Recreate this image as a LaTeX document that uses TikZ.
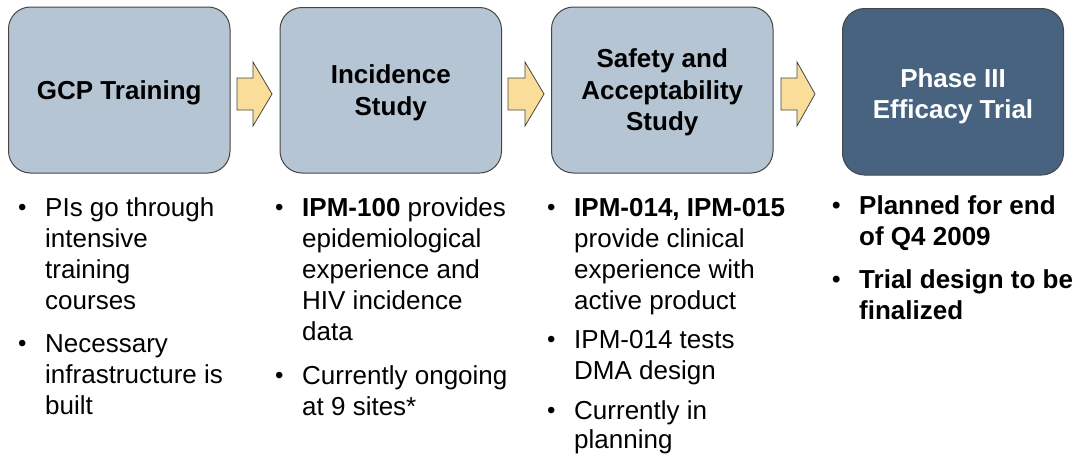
\documentclass[tikz,border=0pt]{standalone}
\usepackage{fontspec}
\setmainfont{Liberation Sans}
\usepackage{array}
\definecolor{boxlight}{RGB}{182,197,212}
\definecolor{boxdark}{RGB}{72,99,127}
\definecolor{boxline}{RGB}{70,70,70}
\definecolor{arrowfill}{RGB}{250,221,152}
\newcommand{\bul}{\raisebox{0.5pt}{\fontsize{24}{24}\selectfont\textbullet}}
\newcommand{\bl}{\hspace*{0pt}\bul}
\begin{document}
\begin{tikzpicture}[x=1pt,y=1pt,
  stagebox/.style={draw=boxline, line width=1pt, rounded corners=22pt, fill=boxlight,
    inner sep=0pt, align=center, text depth=0pt,
    font=\fontsize{26}{31.5}\selectfont\bfseries},
  darkbox/.style={stagebox, fill=boxdark, text=white},
  blockarrow/.style={draw=boxline, line width=0.8pt, fill=arrowfill, line join=miter},
  itemlist/.style={anchor=north west, inner sep=0pt, font=\fontsize{26}{31}\selectfont}
]
\useasboundingbox (0,0) rectangle (1081,-455);

% stage boxes
\node[stagebox, minimum width=221.5pt, minimum height=166pt] (b1) at (119.25,-90) {GCP Training};
\node[stagebox, minimum width=221.5pt, minimum height=165.5pt] (b2) at (390.75,-90.25) {Incidence\\Study};
\node[stagebox, minimum width=221.5pt, minimum height=166pt] (b3) at (662.25,-90) {Safety and\\Acceptability\\Study};
\node[darkbox, minimum width=221pt, minimum height=166.5pt] (b4) at (953,-91.75) {};
\node[font=\fontsize{26}{31.5}\selectfont\bfseries, text=white, align=center, inner sep=0pt, text depth=0pt] (t4) at ([yshift=-2pt]b4.center) {Phase III\\Efficacy Trial};

% block arrows
\draw[blockarrow] (237,-78) -- (253,-78) -- (253,-62) -- (272,-94) -- (253,-126) -- (253,-110) -- (237,-110) -- cycle;
\draw[blockarrow] (508,-78) -- (525,-78) -- (525,-62) -- (544,-94) -- (525,-126) -- (525,-110) -- (508,-110) -- cycle;
\draw[blockarrow] (781,-78) -- (797,-78) -- (797,-62) -- (815,-94) -- (797,-126) -- (797,-110) -- (781,-110) -- cycle;

% column 1
\node[itemlist] (c1a) at (18,-194.3) {\begin{tabular}{@{}p{27pt}@{}l@{}}\bl & PIs go through\\ & intensive\\ & training\\ & courses\end{tabular}};
\node[itemlist] (c1b) at (18,-330.3) {\begin{tabular}{@{}p{27pt}@{}l@{}}\bl & Necessary\\ & infrastructure is\\ & built\end{tabular}};

% column 2
\node[itemlist] (c2a) at (275,-194.3) {\begin{tabular}{@{}p{27pt}@{}l@{}}\bl & \textbf{IPM-100} provides\\ & epidemiological\\ & experience and\\ & HIV incidence\\ & data\end{tabular}};
\node[itemlist] (c2b) at (275,-362.3) {\begin{tabular}{@{}p{27pt}@{}l@{}}\bl & Currently ongoing\\ & at 9 sites*\end{tabular}};

% column 3
\node[itemlist] (c3a) at (547,-194.3) {\begin{tabular}{@{}p{27pt}@{}l@{}}\bl & \textbf{IPM-014, IPM-015}\\ & provide clinical\\ & experience with\\ & active product\end{tabular}};
\node[itemlist] (c3b) at (547,-326.3) {\begin{tabular}{@{}p{27pt}@{}l@{}}\bl & IPM-014 tests\\ & DMA design\end{tabular}};
\node[itemlist] (c3c) at (547,-397.3) {\begin{tabular}{@{}p{27pt}@{}l@{}}\bl & Currently in\\[-2pt] & planning\end{tabular}};

% column 4
\node[itemlist, font=\fontsize{26}{31}\selectfont\bfseries] (c4a) at (832,-192.3) {\begin{tabular}{@{}p{27pt}@{}l@{}}\bl & Planned for end\\ & of Q4 2009\end{tabular}};
\node[itemlist, font=\fontsize{26}{31}\selectfont\bfseries] (c4b) at (832,-266.3) {\begin{tabular}{@{}p{27pt}@{}l@{}}\bl & Trial design to be\\ & finalized\end{tabular}};
\end{tikzpicture}
\end{document}
